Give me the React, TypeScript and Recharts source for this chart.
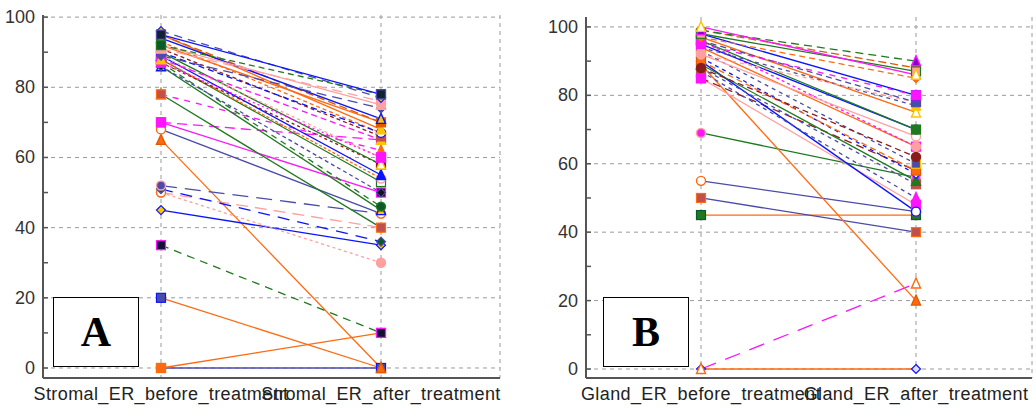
import React from 'react';
import { LineChart, Line, XAxis, YAxis, CartesianGrid, ReferenceLine } from 'recharts';

// colours used by the paired lines
const BLUE = '#0a14ff';
const NAVY = '#4b4ba8';
const ORANGE = '#ff6a10';
const PINK = '#ffa0a0';
const MAGENTA = '#ff14ff';
const GREEN = '#1f7a1f';
const DARKRED = '#8b1c1c';
const YELLOW = '#ffc400';
const DKGREEN = '#0b5a2a';
const BROWN = '#c0504d';
const DKORANGE = '#e05a00';

// ---- Panel A: stromal ER ----
const aCats = ['Stromal_ER_before_treatment', 'Stromal_ER_after_treatment'];
const aBefore = [0, 0, 20, 65, 35, 45, 50, 50, 51, 52, 68, 70, 70, 78, 78, 86, 87, 88, 86, 88, 89, 87, 90, 89, 87, 88, 91, 93, 90, 95, 92, 95, 94, 89, 91, 92, 96, 92, 95];
const aAfter = [0, 10, 0, 0, 10, 35, 30, 40, 36, 44, 44, 50, 65, 62, 40, 45, 46, 53, 50, 54, 55, 58, 58, 60, 60, 65, 66, 67, 67, 68, 70, 70, 71, 74, 76, 75, 77, 78, 78];
const aColor = [NAVY, ORANGE, ORANGE, ORANGE, GREEN, BLUE, PINK, PINK, BLUE, NAVY, NAVY, MAGENTA, MAGENTA, MAGENTA, GREEN, GREEN, GREEN, GREEN, NAVY, ORANGE, BLUE, DARKRED, GREEN, PINK, MAGENTA, MAGENTA, DARKRED, ORANGE, BLUE, ORANGE, ORANGE, DKORANGE, BLUE, NAVY, PINK, PINK, NAVY, GREEN, BLUE];
const aDash = ['', '', '', '', '8 6', '', '3 3', '12 7', '12 8', '16 8', '', '', '10 6', '6 6', '', '', '6 5', '', '4 3', '3 2', '', '3 3', '', '3 3', '2 3', '6 4', '4 3', '4 3', '6 4', '', '', '8 4', '', '10 6', '10 6', '', '8 6', '6 4', ''];
const aShape = ['sq', 'sq', 'sq', 'tri', 'sq', 'dia', 'cir', 'ocir', 'dia', 'cir', 'ocir', 'sq', 'sq', 'tri', 'sq', 'tri', 'cir', 'osq', 'dia', 'ocir', 'tri', 'sq', 'otri', 'sq', 'sq', 'tri', 'sq', 'ocir', 'ocir', 'tri', 'ocir', 'sq', 'tri', 'dia', 'sq', 'tri', 'dia', 'sq', 'sq'];
const aFill = [ORANGE, ORANGE, NAVY, ORANGE, '#113', YELLOW, PINK, '#fff', DKGREEN, NAVY, '#fff', '#111', MAGENTA, ORANGE, BROWN, YELLOW, DKGREEN, '#fff', '#112', '#fff', BLUE, DARKRED, '#fff', MAGENTA, MAGENTA, YELLOW, BROWN, '#fff', '#fff', YELLOW, '#fff', DKORANGE, YELLOW, NAVY, PINK, PINK, YELLOW, DKGREEN, '#123'];
const aStroke = [ORANGE, ORANGE, BLUE, DKORANGE, MAGENTA, BLUE, PINK, ORANGE, NAVY, PINK, ORANGE, MAGENTA, MAGENTA, ORANGE, ORANGE, BLUE, GREEN, GREEN, NAVY, PINK, BLUE, DARKRED, YELLOW, MAGENTA, MAGENTA, YELLOW, BROWN, ORANGE, BLUE, YELLOW, PINK, DKORANGE, BLUE, NAVY, PINK, PINK, BLUE, GREEN, NAVY];

// ---- Panel B: gland ER ----
const bCats = ['Gland_ER_before_treatment', 'Gland_ER_after_treatment'];
const bBefore = [0, 0, 45, 50, 55, 69, 89, 85, 85, 90, 87, 88, 89, 91, 90, 93, 88, 94, 96, 92, 95, 96, 97, 94, 92, 96, 98, 95, 97, 99, 98, 99, 100];
const bAfter = [0, 25, 45, 40, 46, 56, 20, 48, 58, 46, 50, 54, 55, 57, 58, 60, 62, 65, 65, 68, 70, 70, 75, 77, 78, 78, 80, 80, 85, 88, 87, 90, 86];
const bColor = [ORANGE, MAGENTA, ORANGE, NAVY, NAVY, GREEN, ORANGE, PINK, DARKRED, BLUE, NAVY, NAVY, GREEN, BLUE, ORANGE, NAVY, DARKRED, ORANGE, MAGENTA, PINK, BLUE, GREEN, ORANGE, NAVY, PINK, NAVY, BLUE, MAGENTA, ORANGE, DKORANGE, GREEN, GREEN, MAGENTA];
const bDash = ['', '16 10', '', '', '', '', '', '', '8 5', '', '4 4', '4 4', '', '4 4', '6 4', '4 4', '6 4', '', '3 3', '', '', '', '', '4 4', '4 4', '6 4', '', '6 6', '6 4', '8 4', '', '8 5', ''];
const bShape = ['dia', 'otri', 'sq', 'sq', 'ocir', 'cir', 'tri', 'sq', 'sq', 'ocir', 'tri', 'sq', 'tri', 'dia', 'sq', 'sq', 'cir', 'sq', 'cir', 'ocir', 'ocir', 'sq', 'otri', 'tri', 'cir', 'sq', 'sq', 'sq', 'dia', 'cir', 'sq', 'tri', 'otri'];
const bFill = ['#dde', '#fff', GREEN, BROWN, '#fff', MAGENTA, ORANGE, MAGENTA, MAGENTA, '#fff', MAGENTA, BROWN, GREEN, '#fff', ORANGE, NAVY, DARKRED, MAGENTA, PINK, '#fff', '#fff', GREEN, '#fff', YELLOW, PINK, NAVY, NAVY, MAGENTA, ORANGE, DKORANGE, PINK, '#80c', '#fff'];
const bStroke = [BLUE, ORANGE, DKGREEN, ORANGE, ORANGE, PINK, DKORANGE, MAGENTA, MAGENTA, BLUE, MAGENTA, BROWN, GREEN, BLUE, DKORANGE, YELLOW, DARKRED, MAGENTA, PINK, PINK, NAVY, GREEN, YELLOW, YELLOW, PINK, NAVY, BLUE, MAGENTA, ORANGE, DKORANGE, GREEN, MAGENTA, YELLOW];

const yTicks = [0, 10, 20, 30, 40, 50, 60, 70, 80, 90, 100];
const gridY = [0, 20, 40, 60, 80, 100];

const Marker = ({ cx, cy, shape, fill, stroke }: any) => {
  const s = 4.5;
  if (cx == null || cy == null) return null;
  if (shape === 'sq' || shape === 'osq')
    return <rect x={cx - s} y={cy - s} width={2 * s} height={2 * s} fill={shape === 'osq' ? '#fff' : fill} stroke={stroke} strokeWidth={1.2} />;
  if (shape === 'tri' || shape === 'otri')
    return <polygon points={`${cx},${cy - s - 1} ${cx + s},${cy + s} ${cx - s},${cy + s}`} fill={shape === 'otri' ? '#fff' : fill} stroke={stroke} strokeWidth={1.4} />;
  if (shape === 'dia')
    return <polygon points={`${cx},${cy - s} ${cx + s},${cy} ${cx},${cy + s} ${cx - s},${cy}`} fill={fill} stroke={stroke} strokeWidth={1.2} />;
  return <circle cx={cx} cy={cy} r={s} fill={shape === 'ocir' ? '#fff' : fill} stroke={stroke} strokeWidth={1.4} />;
};

const YTick = ({ x, y, payload }: any) => {
  const v = payload.value;
  return (
    <g>
      <line x1={x + 8} x2={x + 13} y1={y} y2={y} stroke="#555" strokeWidth={1.5} />
      {v % 20 === 0 && (
        <text x={x} y={y} dy={6} textAnchor="end" fontSize={18} fill="#333" fontFamily="'Liberation Sans', Arial, sans-serif">
          {v}
        </text>
      )}
    </g>
  );
};

interface PanelProps {
  letter: string;
  cats: string[];
  before: number[];
  after: number[];
  color: string[];
  dash: string[];
  shape: string[];
  fill: string[];
  stroke: string[];
  left: number;
  width: number;
  yAxisWidth: number;
  marginTop: number;
  marginRight: number;
  domain: [number, number];
  padL: number;
  padR: number;
  boxLeft: number;
}

const Panel: React.FC<PanelProps> = (p) => {
  const row = (name: string, vals: number[]) => {
    const r: any = { name };
    vals.forEach((v, i) => (r['s' + i] = v));
    return r;
  };
  const data = [row(p.cats[0], p.before), row(p.cats[1], p.after)];

  return (
    <div style={{ position: 'absolute', left: p.left, top: 0, width: p.width, height: 408 }}>
      <LineChart width={p.width} height={408} data={data} margin={{ top: p.marginTop, right: p.marginRight, left: 0, bottom: 0 }}>
        <CartesianGrid horizontal={false} stroke="#9a9a9a" strokeDasharray="4 4" />
        {gridY.map((v) => (
          <ReferenceLine key={v} y={v} stroke="#9a9a9a" strokeDasharray="4 4" />
        ))}
        <XAxis
          dataKey="name"
          interval={0}
          padding={{ left: p.padL, right: p.padR }}
          tickLine={false}
          tickMargin={3}
          height={30}
          axisLine={{ stroke: '#555', strokeWidth: 2 }}
          tick={{ fontSize: 18, fill: '#222', fontFamily: "'Liberation Sans', Arial, sans-serif", letterSpacing: 0.4 }}
        />
        <YAxis
          type="number"
          domain={p.domain}
          allowDataOverflow
          ticks={yTicks}
          width={p.yAxisWidth}
          tickSize={0}
          tickMargin={8}
          tick={<YTick />}
          axisLine={{ stroke: '#555', strokeWidth: 2 }}
        />
        {p.before.map((_, i) => (
          <Line
            key={i}
            type="linear"
            dataKey={'s' + i}
            stroke={p.color[i]}
            strokeWidth={1.3}
            strokeDasharray={p.dash[i] || undefined}
            activeDot={false}
            isAnimationActive={false}
            dot={(d: any) => (
              <Marker key={`${i}-${d.index}`} cx={d.cx} cy={d.cy} shape={p.shape[i]} fill={p.fill[i]} stroke={p.stroke[i]} />
            )}
          />
        ))}
      </LineChart>
      <div
        style={{
          position: 'absolute',
          left: p.boxLeft,
          top: 297,
          width: 86,
          height: 70,
          border: '1.5px solid #000',
          background: '#fff',
          display: 'flex',
          alignItems: 'center',
          justifyContent: 'center',
          fontFamily: "'Liberation Serif', 'Times New Roman', serif",
          fontWeight: 'bold',
          fontSize: 42,
          boxSizing: 'border-box',
        }}
      >
        {p.letter}
      </div>
    </div>
  );
};

export default function App() {
  return (
    <div style={{ position: 'absolute', left: 0, top: 0, width: 1036, height: 408, background: '#fff' }}>
      <Panel
        letter="A"
        cats={aCats}
        before={aBefore}
        after={aAfter}
        color={aColor}
        dash={aDash}
        shape={aShape}
        fill={aFill}
        stroke={aStroke}
        left={0}
        width={520}
        yAxisWidth={43}
        marginTop={15}
        marginRight={20}
        domain={[-2.85, 100.6]}
        padL={118}
        padR={119}
        boxLeft={53}
      />
      <Panel
        letter="B"
        cats={bCats}
        before={bBefore}
        after={bAfter}
        color={bColor}
        dash={bDash}
        shape={bShape}
        fill={bFill}
        stroke={bStroke}
        left={520}
        width={516}
        yAxisWidth={66}
        marginTop={17}
        marginRight={4}
        domain={[-2.63, 102.9]}
        padL={115}
        padR={116}
        boxLeft={83}
      />
    </div>
  );
}
